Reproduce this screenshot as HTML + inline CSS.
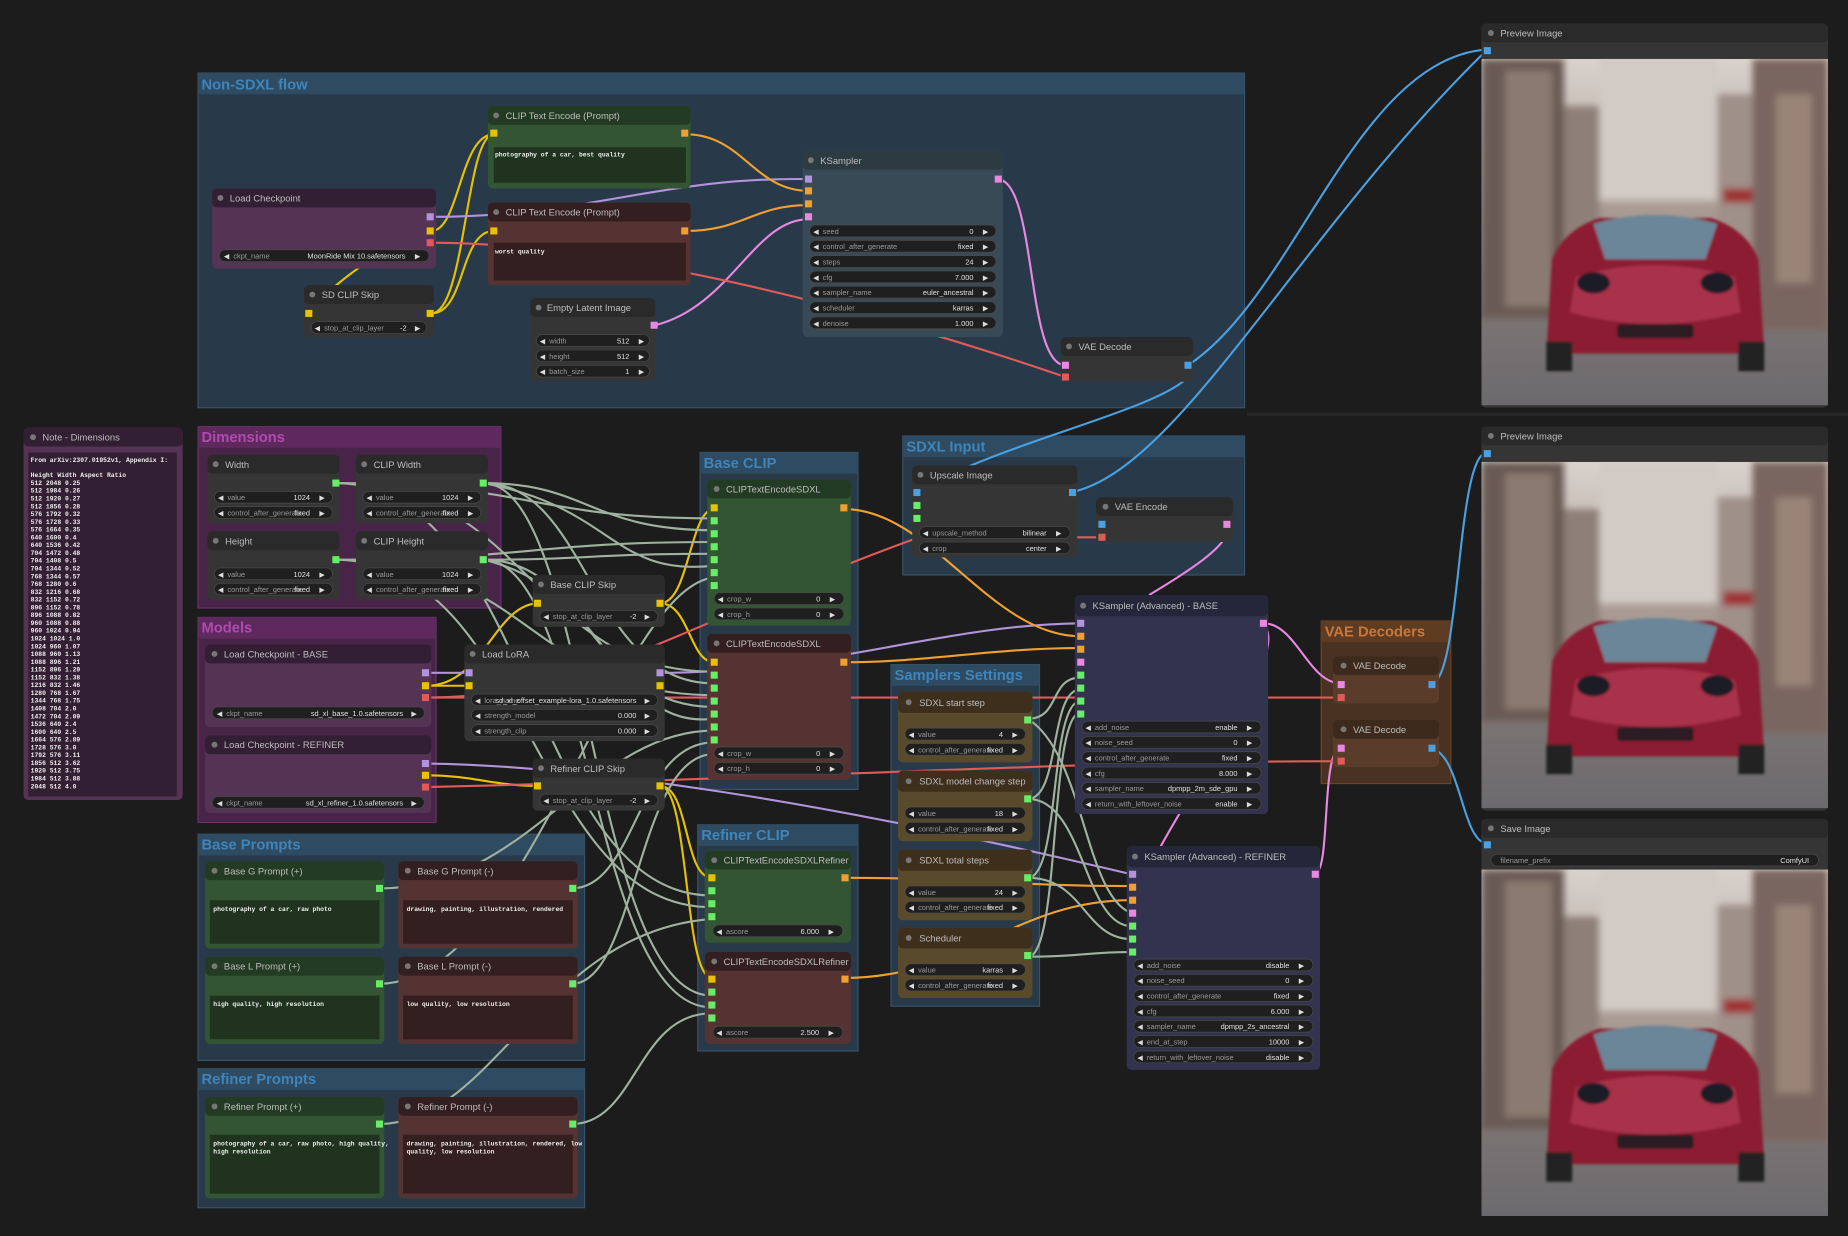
<!DOCTYPE html>
<html><head><meta charset="utf-8"><style>
html,body{margin:0;padding:0;background:#1c1c1c;overflow:hidden}
svg{display:block}
text{font-family:"Liberation Sans",sans-serif}
.t{font-size:8px;fill:#bdbdbd}
.g{font-size:12.5px;font-weight:bold}
.wl{font-size:6.3px;fill:#9a9a9a}
.wv{font-size:6.3px;fill:#e0e0e0;text-anchor:end}
.ar{font-size:6px;fill:#ddd}
.m{font-family:"Liberation Mono",monospace;font-size:5.4px;fill:#eee;font-weight:bold}
.wi{fill:#1f1f1f;stroke:#4a4a4a;stroke-width:.6}
.L path{fill:none;stroke-width:1.8}
</style></head><body>
<svg width="1848" height="1236" viewBox="0 0 1568 1049" preserveAspectRatio="none" xmlns="http://www.w3.org/2000/svg">
<defs>
<linearGradient id="sky" x1="0" y1="0" x2="0" y2="1">
<stop offset="0" stop-color="#d9d2cc"/><stop offset=".45" stop-color="#a89a92"/><stop offset=".7" stop-color="#7d7674"/><stop offset="1" stop-color="#6c6a6e"/></linearGradient>
<filter id="bl" x="-5%" y="-5%" width="110%" height="110%"><feGaussianBlur stdDeviation="3"/></filter>
<filter id="bl2"><feGaussianBlur stdDeviation="1.2"/></filter>
<clipPath id="pc"><rect width="294" height="294"/></clipPath>
<g id="photo">
<g clip-path="url(#pc)">
<rect width="294" height="294" fill="url(#sky)"/>
<g filter="url(#bl)">
<rect x="0" y="0" width="70" height="220" fill="#6a5a54"/>
<rect x="20" y="10" width="40" height="200" fill="#8a7a70"/>
<rect x="230" y="0" width="64" height="230" fill="#7a6660"/>
<rect x="250" y="30" width="30" height="160" fill="#9a8478"/>
<rect x="100" y="0" width="100" height="120" fill="#d2cac4"/>
<rect x="70" y="40" width="30" height="150" fill="#8e8078"/>
<rect x="200" y="30" width="30" height="150" fill="#a0908a"/>
<rect x="205" y="110" width="25" height="12" fill="#a03030"/>
</g>
<g filter="url(#bl2)">
<path d="M60 170 Q70 145 100 135 L195 135 Q225 145 235 170 L240 250 L55 250 Z" fill="#8c1d32"/>
<path d="M95 140 Q147 125 200 140 L190 170 L105 170 Z" fill="#6a8698"/>
<path d="M80 185 Q147 165 215 185 L220 215 Q147 235 75 215 Z" fill="#a83048"/>
<ellipse cx="95" cy="190" rx="14" ry="9" fill="#1e1e28"/>
<ellipse cx="200" cy="190" rx="14" ry="9" fill="#1e1e28"/>
<rect x="115" y="225" width="65" height="12" rx="3" fill="#2a1a20"/>
<rect x="55" y="240" width="22" height="25" fill="#222"/>
<rect x="218" y="240" width="22" height="25" fill="#222"/>
</g>
</g>
</g>
</defs>
<rect width="1568" height="1049" fill="#1c1c1c"/>
<rect x="1058" y="350" width="510" height="3" fill="#262626"/>

<!-- GROUPS -->
<g>
<rect x="168" y="62" width="888" height="284" fill="#283a4a" stroke="#35536c"/>
<rect x="168" y="62" width="888" height="18" fill="#2e4b62"/>
<text x="171" y="76" class="g" fill="#3f85bb">Non-SDXL flow</text>

<rect x="168" y="362" width="257" height="154" fill="#482448" stroke="#6a306a"/>
<rect x="168" y="362" width="257" height="18" fill="#5e2a5e"/>
<text x="171" y="375" class="g" fill="#b04ab0">Dimensions</text>

<rect x="168" y="524" width="202" height="174" fill="#482448" stroke="#6a306a"/>
<rect x="168" y="524" width="202" height="18" fill="#5e2a5e"/>
<text x="171" y="537" class="g" fill="#b04ab0">Models</text>

<rect x="168" y="708" width="328" height="192" fill="#283a4a" stroke="#35536c"/>
<rect x="168" y="708" width="328" height="18" fill="#2e4b62"/>
<text x="171" y="721" class="g" fill="#3f85bb">Base Prompts</text>

<rect x="168" y="907" width="328" height="118" fill="#283a4a" stroke="#35536c"/>
<rect x="168" y="907" width="328" height="18" fill="#2e4b62"/>
<text x="171" y="920" class="g" fill="#3f85bb">Refiner Prompts</text>

<rect x="594" y="384" width="134" height="286" fill="#283a4a" stroke="#35536c"/>
<rect x="594" y="384" width="134" height="18" fill="#2e4b62"/>
<text x="597" y="397" class="g" fill="#3f85bb">Base CLIP</text>

<rect x="592" y="700" width="136" height="192" fill="#283a4a" stroke="#35536c"/>
<rect x="592" y="700" width="136" height="18" fill="#2e4b62"/>
<text x="595" y="713" class="g" fill="#3f85bb">Refiner CLIP</text>

<rect x="766" y="370" width="290" height="118" fill="#283a4a" stroke="#35536c"/>
<rect x="766" y="370" width="290" height="18" fill="#2e4b62"/>
<text x="769" y="383" class="g" fill="#3f85bb">SDXL Input</text>

<rect x="756" y="564" width="126" height="290" fill="#283a4a" stroke="#35536c"/>
<rect x="756" y="564" width="126" height="18" fill="#2e4b62"/>
<text x="759" y="577" class="g" fill="#3f85bb">Samplers Settings</text>

<rect x="1121" y="527" width="110" height="138" fill="#4a3222" stroke="#6a4426"/>
<rect x="1121" y="527" width="110" height="18" fill="#5e3c22"/>
<text x="1124" y="540" class="g" fill="#c8783a">VAE Decoders</text>
</g>

<!-- LINKS -->
<g class="L">
<path stroke="#e6c200" d="M366 196 C390 196 390 114 419 114"/>
<path stroke="#e6c200" d="M366 266 C395 266 390 196 419 196"/>
<path stroke="#e6c200" d="M366 266 C395 266 395 114 419 114"/>
<path stroke="#e6c200" d="M366 196 C340 200 280 240 262 266"/>
<path stroke="#e6c200" d="M362 582 C410 582 420 512 457 512"/>
<path stroke="#e6c200" d="M362 658 C400 658 420 667 457 667"/>
<path stroke="#e6c200" d="M560 512 C585 512 585 432 606 432"/>
<path stroke="#e6c200" d="M560 512 C585 512 585 562 606 562"/>
<path stroke="#e6c200" d="M560 667 C585 667 580 745 604 745"/>
<path stroke="#e6c200" d="M560 667 C585 667 580 830 604 830"/>
<path stroke="#e6c200" d="M362 582 C380 582 380 582 398 582"/>
<path stroke="#b394dc" d="M366 184 C500 184 560 150 686 152"/>
<path stroke="#b394dc" d="M362 571 C380 571 380 571 398 571"/>
<path stroke="#b394dc" d="M560 571 C700 571 800 530 917 529"/>
<path stroke="#b394dc" d="M362 648 C500 650 700 680 960 742"/>
<path stroke="#f0a030" d="M582 114 C630 114 640 162 686 162"/>
<path stroke="#f0a030" d="M582 196 C630 196 640 174 686 174"/>
<path stroke="#f0a030" d="M716 432 C790 432 840 540 917 540"/>
<path stroke="#f0a030" d="M716 562 C790 562 840 550 917 550"/>
<path stroke="#f0a030" d="M716 745 C820 745 860 752 960 752"/>
<path stroke="#f0a030" d="M716 830 C820 830 860 764 960 764"/>
<path stroke="#e888e0" d="M556 276 C620 260 640 186 686 186"/>
<path stroke="#e888e0" d="M846 152 C880 152 870 310 904 310"/>
<path stroke="#e888e0" d="M1040 446 C1050 460 1000 490 975 505"/>
<path stroke="#e888e0" d="M1072 529 C1100 529 1110 580 1138 580"/>
<path stroke="#e888e0" d="M1072 529 C1100 560 980 700 960 775"/>
<path stroke="#e888e0" d="M1115 742 C1130 742 1120 635 1138 635"/>
<path stroke="#e05a5a" d="M366 206 C500 206 700 250 904 320"/>
<path stroke="#e05a5a" d="M362 592 C500 592 600 520 780 456 L936 456"/>
<path stroke="#e05a5a" d="M362 592 C700 592 900 592 1138 592"/>
<path stroke="#e05a5a" d="M362 668 C700 660 900 646 1138 646"/>
<path stroke="#4aa0e0" d="M1008 310 C1100 250 1150 50 1262 42"/>
<path stroke="#4aa0e0" d="M1008 320 C980 350 830 380 778 420"/>
<path stroke="#4aa0e0" d="M908 418 C1000 400 1100 200 1262 42"/>
<path stroke="#4aa0e0" d="M1214 580 C1240 580 1235 384 1262 384"/>
<path stroke="#4aa0e0" d="M1214 635 C1240 640 1240 715 1262 716"/>
<g stroke="#9fb29f" stroke-width="1.4">
<path d="M284 410 C450 410 450 440 606 440"/>
<path d="M284 410 C450 410 450 570 606 570"/>
<path d="M284 410 C450 410 450 760 604 760"/>
<path d="M410 410 C500 410 500 450 606 450"/>
<path d="M410 410 C500 410 500 580 606 580"/>
<path d="M410 410 C500 410 500 845 604 845"/>
<path d="M284 475 C450 475 450 460 606 460"/>
<path d="M284 475 C450 475 450 590 606 590"/>
<path d="M284 475 C450 475 450 770 604 770"/>
<path d="M410 475 C500 475 500 470 606 470"/>
<path d="M410 475 C500 475 500 600 606 600"/>
<path d="M410 475 C500 475 500 855 604 855"/>
<path d="M410 410 C520 430 520 490 606 480"/>
<path d="M410 475 C520 500 520 620 606 610"/>
<path d="M321 754 C450 754 500 620 606 620"/>
<path d="M485 754 C540 754 540 630 606 630"/>
<path d="M321 835 C450 835 520 500 606 490"/>
<path d="M485 835 C540 835 540 640 606 640"/>
<path d="M321 954 C420 954 460 790 604 780"/>
<path d="M485 954 C540 954 540 860 604 860"/>
<path d="M872 610 C900 610 890 575 917 575"/>
<path d="M872 678 C900 678 890 585 917 585"/>
<path d="M872 745 C900 745 890 595 917 595"/>
<path d="M872 812 C900 812 890 605 917 605"/>
<path d="M872 678 C920 678 920 786 960 786"/>
<path d="M872 745 C920 745 920 797 960 797"/>
<path d="M872 812 C920 812 920 808 960 808"/>
<path d="M872 610 C920 640 920 760 960 775"/>
</g>
</g>

<!-- NODES -->
<g>
<rect x="414" y="90" width="172" height="70" rx="4" fill="#335533"/>
<rect x="414" y="90" width="172" height="16" rx="4" fill="#233a23"/>
<circle cx="421" cy="98" r="2.5" fill="#777"/><text x="429" y="101" class="t">CLIP Text Encode (Prompt)</text>
<rect x="416" y="110" width="6" height="6" fill="#e6c200"/><rect x="578" y="110" width="6" height="6" fill="#f0a030"/>
<rect x="419" y="125" width="163" height="30" fill="#1f331f"/>
<text x="420" y="133" class="m">photography of a car, best quality</text>
</g>
<g>
<rect x="414" y="172" width="172" height="70" rx="4" fill="#553333"/>
<rect x="414" y="172" width="172" height="16" rx="4" fill="#331f1f"/>
<circle cx="421" cy="180" r="2.5" fill="#777"/><text x="429" y="183" class="t">CLIP Text Encode (Prompt)</text>
<rect x="416" y="193" width="6" height="6" fill="#e6c200"/><rect x="578" y="193" width="6" height="6" fill="#f0a030"/>
<rect x="419" y="206" width="163" height="32" fill="#331f1f"/>
<text x="420" y="215" class="m">worst quality</text>
</g>
<g>
<rect x="180" y="160" width="190" height="68" rx="4" fill="#553355"/>
<rect x="180" y="160" width="190" height="16" rx="4" fill="#331f33"/>
<circle cx="187" cy="168" r="2.5" fill="#777"/><text x="195" y="171" class="t">Load Checkpoint</text>
<rect x="362" y="181" width="6" height="6" fill="#b394dc"/><rect x="362" y="193" width="6" height="6" fill="#e6c200"/><rect x="362" y="203" width="6" height="6" fill="#e05a5a"/>
<rect x="186" y="212" width="178" height="10" rx="5" class="wi"/><text x="190" y="219.5" class="ar">◀</text><text x="198" y="219.5" class="wl">ckpt_name</text><text x="344" y="219.5" class="wv">MoonRide Mix 10.safetensors</text><text x="352" y="219.5" class="ar">▶</text>
</g>
<g>
<rect x="258" y="242" width="110" height="44" rx="4" fill="#353535"/>
<rect x="258" y="242" width="110" height="16" rx="4" fill="#2a2a2a"/>
<circle cx="265" cy="250" r="2.5" fill="#777"/><text x="273" y="253" class="t">SD CLIP Skip</text>
<rect x="259" y="263" width="6" height="6" fill="#e6c200"/><rect x="362" y="263" width="6" height="6" fill="#e6c200"/>
<rect x="264" y="273" width="98" height="10" rx="5" class="wi"/><text x="267" y="280.5" class="ar">◀</text><text x="275" y="280.5" class="wl">stop_at_clip_layer</text><text x="345" y="280.5" class="wv">-2</text><text x="352" y="280.5" class="ar">▶</text>
</g>
<g>
<rect x="450" y="253" width="106" height="70" rx="4" fill="#353535"/>
<rect x="450" y="253" width="106" height="16" rx="4" fill="#2a2a2a"/>
<circle cx="457" cy="261" r="2.5" fill="#777"/><text x="464" y="264" class="t">Empty Latent Image</text>
<rect x="552" y="273" width="6" height="6" fill="#e888e0"/>
<rect x="455" y="284" width="96" height="10" rx="5" class="wi"/><text x="458" y="291.5" class="ar">◀</text><text x="466" y="291.5" class="wl">width</text><text x="534" y="291.5" class="wv">512</text><text x="542" y="291.5" class="ar">▶</text>
<rect x="455" y="297" width="96" height="10" rx="5" class="wi"/><text x="458" y="304.5" class="ar">◀</text><text x="466" y="304.5" class="wl">height</text><text x="534" y="304.5" class="wv">512</text><text x="542" y="304.5" class="ar">▶</text>
<rect x="455" y="310" width="96" height="10" rx="5" class="wi"/><text x="458" y="317.5" class="ar">◀</text><text x="466" y="317.5" class="wl">batch_size</text><text x="534" y="317.5" class="wv">1</text><text x="542" y="317.5" class="ar">▶</text>
</g>
<g>
<rect x="681" y="128" width="170" height="158" rx="4" fill="#374a55"/>
<rect x="681" y="128" width="170" height="16" rx="4" fill="#2c3a42"/>
<circle cx="688" cy="136" r="2.5" fill="#777"/><text x="696" y="139" class="t">KSampler</text>
<rect x="683" y="149" width="6" height="6" fill="#b394dc"/><rect x="683" y="159" width="6" height="6" fill="#f0a030"/><rect x="683" y="170" width="6" height="6" fill="#f0a030"/><rect x="683" y="181" width="6" height="6" fill="#e888e0"/>
<rect x="844" y="149" width="6" height="6" fill="#e888e0"/>
<rect x="687" y="191" width="158" height="10" rx="5" class="wi"/><text x="690" y="198.5" class="ar">◀</text><text x="698" y="198.5" class="wl">seed</text><text x="826" y="198.5" class="wv">0</text><text x="834" y="198.5" class="ar">▶</text>
<rect x="687" y="204" width="158" height="10" rx="5" class="wi"/><text x="690" y="211.5" class="ar">◀</text><text x="698" y="211.5" class="wl">control_after_generate</text><text x="826" y="211.5" class="wv">fixed</text><text x="834" y="211.5" class="ar">▶</text>
<rect x="687" y="217" width="158" height="10" rx="5" class="wi"/><text x="690" y="224.5" class="ar">◀</text><text x="698" y="224.5" class="wl">steps</text><text x="826" y="224.5" class="wv">24</text><text x="834" y="224.5" class="ar">▶</text>
<rect x="687" y="230" width="158" height="10" rx="5" class="wi"/><text x="690" y="237.5" class="ar">◀</text><text x="698" y="237.5" class="wl">cfg</text><text x="826" y="237.5" class="wv">7.000</text><text x="834" y="237.5" class="ar">▶</text>
<rect x="687" y="243" width="158" height="10" rx="5" class="wi"/><text x="690" y="250.5" class="ar">◀</text><text x="698" y="250.5" class="wl">sampler_name</text><text x="826" y="250.5" class="wv">euler_ancestral</text><text x="834" y="250.5" class="ar">▶</text>
<rect x="687" y="256" width="158" height="10" rx="5" class="wi"/><text x="690" y="263.5" class="ar">◀</text><text x="698" y="263.5" class="wl">scheduler</text><text x="826" y="263.5" class="wv">karras</text><text x="834" y="263.5" class="ar">▶</text>
<rect x="687" y="269" width="158" height="10" rx="5" class="wi"/><text x="690" y="276.5" class="ar">◀</text><text x="698" y="276.5" class="wl">denoise</text><text x="826" y="276.5" class="wv">1.000</text><text x="834" y="276.5" class="ar">▶</text>
</g>
<g>
<rect x="900" y="286" width="112" height="38" rx="4" fill="#353535"/>
<rect x="900" y="286" width="112" height="16" rx="4" fill="#2a2a2a"/>
<circle cx="907" cy="294" r="2.5" fill="#777"/><text x="915" y="297" class="t">VAE Decode</text>
<rect x="901" y="307" width="6" height="6" fill="#e888e0"/><rect x="901" y="317" width="6" height="6" fill="#e05a5a"/><rect x="1005" y="307" width="6" height="6" fill="#4aa0e0"/>
</g>
<g>
<rect x="1257" y="20" width="294" height="326" rx="4" fill="#353535"/>
<rect x="1257" y="20" width="294" height="16" rx="4" fill="#2a2a2a"/>
<circle cx="1265" cy="28" r="2.5" fill="#777"/><text x="1273" y="31" class="t">Preview Image</text>
<rect x="1259" y="40" width="6" height="6" fill="#4aa0e0"/>
<use href="#photo" x="1257" y="50"/>
</g>

<g>
<rect x="20" y="363" width="135" height="316" rx="4" fill="#553355"/>
<rect x="20" y="363" width="135" height="16" rx="4" fill="#331f33"/>
<circle cx="28" cy="371" r="2.5" fill="#777"/><text x="36" y="374" class="t">Note - Dimensions</text>
<rect x="24" y="384" width="126" height="292" fill="#331f33"/>
<text class="m" x="26">
<tspan x="26" y="392">From arXiv:2307.01952v1, Appendix I:</tspan>
<tspan x="26" y="405">Height Width Aspect Ratio</tspan>
<tspan x="26" dy="6.6">512 2048 0.25</tspan><tspan x="26" dy="6.6">512 1984 0.26</tspan><tspan x="26" dy="6.6">512 1920 0.27</tspan><tspan x="26" dy="6.6">512 1856 0.28</tspan><tspan x="26" dy="6.6">576 1792 0.32</tspan><tspan x="26" dy="6.6">576 1728 0.33</tspan><tspan x="26" dy="6.6">576 1664 0.35</tspan><tspan x="26" dy="6.6">640 1600 0.4</tspan><tspan x="26" dy="6.6">640 1536 0.42</tspan><tspan x="26" dy="6.6">704 1472 0.48</tspan><tspan x="26" dy="6.6">704 1408 0.5</tspan><tspan x="26" dy="6.6">704 1344 0.52</tspan><tspan x="26" dy="6.6">768 1344 0.57</tspan><tspan x="26" dy="6.6">768 1280 0.6</tspan><tspan x="26" dy="6.6">832 1216 0.68</tspan><tspan x="26" dy="6.6">832 1152 0.72</tspan><tspan x="26" dy="6.6">896 1152 0.78</tspan><tspan x="26" dy="6.6">896 1088 0.82</tspan><tspan x="26" dy="6.6">960 1088 0.88</tspan><tspan x="26" dy="6.6">960 1024 0.94</tspan><tspan x="26" dy="6.6">1024 1024 1.0</tspan><tspan x="26" dy="6.6">1024 960 1.07</tspan><tspan x="26" dy="6.6">1088 960 1.13</tspan><tspan x="26" dy="6.6">1088 896 1.21</tspan><tspan x="26" dy="6.6">1152 896 1.29</tspan><tspan x="26" dy="6.6">1152 832 1.38</tspan><tspan x="26" dy="6.6">1216 832 1.46</tspan><tspan x="26" dy="6.6">1280 768 1.67</tspan><tspan x="26" dy="6.6">1344 768 1.75</tspan><tspan x="26" dy="6.6">1408 704 2.0</tspan><tspan x="26" dy="6.6">1472 704 2.09</tspan><tspan x="26" dy="6.6">1536 640 2.4</tspan><tspan x="26" dy="6.6">1600 640 2.5</tspan><tspan x="26" dy="6.6">1664 576 2.89</tspan><tspan x="26" dy="6.6">1728 576 3.0</tspan><tspan x="26" dy="6.6">1792 576 3.11</tspan><tspan x="26" dy="6.6">1856 512 3.62</tspan><tspan x="26" dy="6.6">1920 512 3.75</tspan><tspan x="26" dy="6.6">1984 512 3.88</tspan><tspan x="26" dy="6.6">2048 512 4.0</tspan>
</text>
</g>

<g>
<rect x="176" y="386" width="112" height="58" rx="4" fill="#353535"/><rect x="176" y="386" width="112" height="16" rx="4" fill="#2a2a2a"/>
<circle cx="183" cy="394" r="2.5" fill="#777"/><text x="191" y="397" class="t">Width</text>
<rect x="282" y="407" width="6" height="6" fill="#6e6"/>
<rect x="182" y="417" width="100" height="10" rx="5" class="wi"/><text x="185" y="424.5" class="ar">◀</text><text x="193" y="424.5" class="wl">value</text><text x="263" y="424.5" class="wv">1024</text><text x="271" y="424.5" class="ar">▶</text>
<rect x="182" y="430" width="100" height="10" rx="5" class="wi"/><text x="185" y="437.5" class="ar">◀</text><text x="193" y="437.5" class="wl">control_after_generate</text><text x="263" y="437.5" class="wv">fixed</text><text x="271" y="437.5" class="ar">▶</text>

<rect x="302" y="386" width="112" height="58" rx="4" fill="#353535"/><rect x="302" y="386" width="112" height="16" rx="4" fill="#2a2a2a"/>
<circle cx="309" cy="394" r="2.5" fill="#777"/><text x="317" y="397" class="t">CLIP Width</text>
<rect x="407" y="407" width="6" height="6" fill="#6e6"/>
<rect x="308" y="417" width="100" height="10" rx="5" class="wi"/><text x="311" y="424.5" class="ar">◀</text><text x="319" y="424.5" class="wl">value</text><text x="389" y="424.5" class="wv">1024</text><text x="397" y="424.5" class="ar">▶</text>
<rect x="308" y="430" width="100" height="10" rx="5" class="wi"/><text x="311" y="437.5" class="ar">◀</text><text x="319" y="437.5" class="wl">control_after_generate</text><text x="389" y="437.5" class="wv">fixed</text><text x="397" y="437.5" class="ar">▶</text>

<rect x="176" y="451" width="112" height="58" rx="4" fill="#353535"/><rect x="176" y="451" width="112" height="16" rx="4" fill="#2a2a2a"/>
<circle cx="183" cy="459" r="2.5" fill="#777"/><text x="191" y="462" class="t">Height</text>
<rect x="282" y="472" width="6" height="6" fill="#6e6"/>
<rect x="182" y="482" width="100" height="10" rx="5" class="wi"/><text x="185" y="489.5" class="ar">◀</text><text x="193" y="489.5" class="wl">value</text><text x="263" y="489.5" class="wv">1024</text><text x="271" y="489.5" class="ar">▶</text>
<rect x="182" y="495" width="100" height="10" rx="5" class="wi"/><text x="185" y="502.5" class="ar">◀</text><text x="193" y="502.5" class="wl">control_after_generate</text><text x="263" y="502.5" class="wv">fixed</text><text x="271" y="502.5" class="ar">▶</text>

<rect x="302" y="451" width="112" height="58" rx="4" fill="#353535"/><rect x="302" y="451" width="112" height="16" rx="4" fill="#2a2a2a"/>
<circle cx="309" cy="459" r="2.5" fill="#777"/><text x="317" y="462" class="t">CLIP Height</text>
<rect x="407" y="472" width="6" height="6" fill="#6e6"/>
<rect x="308" y="482" width="100" height="10" rx="5" class="wi"/><text x="311" y="489.5" class="ar">◀</text><text x="319" y="489.5" class="wl">value</text><text x="389" y="489.5" class="wv">1024</text><text x="397" y="489.5" class="ar">▶</text>
<rect x="308" y="495" width="100" height="10" rx="5" class="wi"/><text x="311" y="502.5" class="ar">◀</text><text x="319" y="502.5" class="wl">control_after_generate</text><text x="389" y="502.5" class="wv">fixed</text><text x="397" y="502.5" class="ar">▶</text>
</g>

<g>
<rect x="174" y="547" width="192" height="70" rx="4" fill="#553355"/><rect x="174" y="547" width="192" height="16" rx="4" fill="#331f33"/>
<circle cx="182" cy="555" r="2.5" fill="#777"/><text x="190" y="558" class="t">Load Checkpoint - BASE</text>
<rect x="358" y="568" width="6" height="6" fill="#b394dc"/><rect x="358" y="579" width="6" height="6" fill="#e6c200"/><rect x="358" y="589" width="6" height="6" fill="#e05a5a"/>
<rect x="180" y="600" width="180" height="10" rx="5" class="wi"/><text x="184" y="607.5" class="ar">◀</text><text x="192" y="607.5" class="wl">ckpt_name</text><text x="342" y="607.5" class="wv">sd_xl_base_1.0.safetensors</text><text x="349" y="607.5" class="ar">▶</text>

<rect x="174" y="624" width="192" height="66" rx="4" fill="#553355"/><rect x="174" y="624" width="192" height="16" rx="4" fill="#331f33"/>
<circle cx="182" cy="632" r="2.5" fill="#777"/><text x="190" y="635" class="t">Load Checkpoint - REFINER</text>
<rect x="358" y="645" width="6" height="6" fill="#b394dc"/><rect x="358" y="655" width="6" height="6" fill="#e6c200"/><rect x="358" y="665" width="6" height="6" fill="#e05a5a"/>
<rect x="180" y="676" width="180" height="10" rx="5" class="wi"/><text x="184" y="683.5" class="ar">◀</text><text x="192" y="683.5" class="wl">ckpt_name</text><text x="342" y="683.5" class="wv">sd_xl_refiner_1.0.safetensors</text><text x="349" y="683.5" class="ar">▶</text>
</g>

<g>
<rect x="174" y="731" width="152" height="74" rx="4" fill="#335533"/><rect x="174" y="731" width="152" height="16" rx="4" fill="#233a23"/>
<circle cx="182" cy="739" r="2.5" fill="#777"/><text x="190" y="742" class="t">Base G Prompt (+)</text>
<rect x="319" y="751" width="6" height="6" fill="#6e6"/>
<rect x="178" y="764" width="144" height="37" fill="#1f331f"/><text x="181" y="773" class="m">photography of a car, raw photo</text>

<rect x="338" y="731" width="152" height="74" rx="4" fill="#553333"/><rect x="338" y="731" width="152" height="16" rx="4" fill="#331f1f"/>
<circle cx="346" cy="739" r="2.5" fill="#777"/><text x="354" y="742" class="t">Base G Prompt (-)</text>
<rect x="483" y="751" width="6" height="6" fill="#6e6"/>
<rect x="342" y="764" width="144" height="37" fill="#331f1f"/><text x="345" y="773" class="m">drawing, painting, illustration, rendered</text>

<rect x="174" y="812" width="152" height="74" rx="4" fill="#335533"/><rect x="174" y="812" width="152" height="16" rx="4" fill="#233a23"/>
<circle cx="182" cy="820" r="2.5" fill="#777"/><text x="190" y="823" class="t">Base L Prompt (+)</text>
<rect x="319" y="832" width="6" height="6" fill="#6e6"/>
<rect x="178" y="845" width="144" height="37" fill="#1f331f"/><text x="181" y="854" class="m">high quality, high resolution</text>

<rect x="338" y="812" width="152" height="74" rx="4" fill="#553333"/><rect x="338" y="812" width="152" height="16" rx="4" fill="#331f1f"/>
<circle cx="346" cy="820" r="2.5" fill="#777"/><text x="354" y="823" class="t">Base L Prompt (-)</text>
<rect x="483" y="832" width="6" height="6" fill="#6e6"/>
<rect x="342" y="845" width="144" height="37" fill="#331f1f"/><text x="345" y="854" class="m">low quality, low resolution</text>

<rect x="174" y="931" width="152" height="86" rx="4" fill="#335533"/><rect x="174" y="931" width="152" height="16" rx="4" fill="#233a23"/>
<circle cx="182" cy="939" r="2.5" fill="#777"/><text x="190" y="942" class="t">Refiner Prompt (+)</text>
<rect x="319" y="951" width="6" height="6" fill="#6e6"/>
<rect x="178" y="963" width="144" height="50" fill="#1f331f"/><text x="181" y="972" class="m"><tspan x="181" y="972">photography of a car, raw photo, high quality,</tspan><tspan x="181" dy="7">high resolution</tspan></text>

<rect x="338" y="931" width="152" height="86" rx="4" fill="#553333"/><rect x="338" y="931" width="152" height="16" rx="4" fill="#331f1f"/>
<circle cx="346" cy="939" r="2.5" fill="#777"/><text x="354" y="942" class="t">Refiner Prompt (-)</text>
<rect x="483" y="951" width="6" height="6" fill="#6e6"/>
<rect x="342" y="963" width="144" height="50" fill="#331f1f"/><text class="m"><tspan x="345" y="972">drawing, painting, illustration, rendered, low</tspan><tspan x="345" dy="7">quality, low resolution</tspan></text>
</g>

<g>
<rect x="452" y="488" width="112" height="44" rx="4" fill="#353535"/><rect x="452" y="488" width="112" height="16" rx="4" fill="#2a2a2a"/>
<circle cx="459" cy="496" r="2.5" fill="#777"/><text x="467" y="499" class="t">Base CLIP Skip</text>
<rect x="453" y="509" width="6" height="6" fill="#e6c200"/><rect x="557" y="509" width="6" height="6" fill="#e6c200"/>
<rect x="458" y="518" width="100" height="10" rx="5" class="wi"/><text x="461" y="525.5" class="ar">◀</text><text x="469" y="525.5" class="wl">stop_at_clip_layer</text><text x="540" y="525.5" class="wv">-2</text><text x="547" y="525.5" class="ar">▶</text>

<rect x="394" y="547" width="170" height="82" rx="4" fill="#353535"/><rect x="394" y="547" width="170" height="16" rx="4" fill="#2a2a2a"/>
<circle cx="401" cy="555" r="2.5" fill="#777"/><text x="409" y="558" class="t">Load LoRA</text>
<rect x="395" y="568" width="6" height="6" fill="#b394dc"/><rect x="395" y="579" width="6" height="6" fill="#e6c200"/>
<rect x="557" y="568" width="6" height="6" fill="#b394dc"/><rect x="557" y="579" width="6" height="6" fill="#e6c200"/>
<rect x="400" y="589" width="158" height="10" rx="5" class="wi"/><text x="403" y="596.5" class="ar">◀</text><text x="411" y="596.5" class="wl">lora_name</text><text x="540" y="596.5" class="wv">sd_xl_offset_example-lora_1.0.safetensors</text><text x="547" y="596.5" class="ar">▶</text>
<rect x="400" y="602" width="158" height="10" rx="5" class="wi"/><text x="403" y="609.5" class="ar">◀</text><text x="411" y="609.5" class="wl">strength_model</text><text x="540" y="609.5" class="wv">0.000</text><text x="547" y="609.5" class="ar">▶</text>
<rect x="400" y="615" width="158" height="10" rx="5" class="wi"/><text x="403" y="622.5" class="ar">◀</text><text x="411" y="622.5" class="wl">strength_clip</text><text x="540" y="622.5" class="wv">0.000</text><text x="547" y="622.5" class="ar">▶</text>

<rect x="452" y="644" width="112" height="44" rx="4" fill="#353535"/><rect x="452" y="644" width="112" height="16" rx="4" fill="#2a2a2a"/>
<circle cx="459" cy="652" r="2.5" fill="#777"/><text x="467" y="655" class="t">Refiner CLIP Skip</text>
<rect x="453" y="664" width="6" height="6" fill="#e6c200"/><rect x="557" y="664" width="6" height="6" fill="#e6c200"/>
<rect x="458" y="674" width="100" height="10" rx="5" class="wi"/><text x="461" y="681.5" class="ar">◀</text><text x="469" y="681.5" class="wl">stop_at_clip_layer</text><text x="540" y="681.5" class="wv">-2</text><text x="547" y="681.5" class="ar">▶</text>
</g>

<g>
<rect x="600" y="407" width="122" height="124" rx="4" fill="#335533"/><rect x="600" y="407" width="122" height="16" rx="4" fill="#233a23"/>
<circle cx="608" cy="415" r="2.5" fill="#777"/><text x="616" y="418" class="t">CLIPTextEncodeSDXL</text>
<rect x="603" y="428" width="6" height="6" fill="#e6c200"/><rect x="713" y="428" width="6" height="6" fill="#f0a030"/>
<rect x="603" y="439" width="6" height="6" fill="#6e6"/><rect x="603" y="450" width="6" height="6" fill="#6e6"/><rect x="603" y="461" width="6" height="6" fill="#6e6"/><rect x="603" y="472" width="6" height="6" fill="#6e6"/><rect x="603" y="483" width="6" height="6" fill="#6e6"/><rect x="603" y="494" width="6" height="6" fill="#6e6"/>
<rect x="606" y="503" width="110" height="10" rx="5" class="wi"/><text x="609" y="510.5" class="ar">◀</text><text x="617" y="510.5" class="wl">crop_w</text><text x="696" y="510.5" class="wv">0</text><text x="704" y="510.5" class="ar">▶</text>
<rect x="606" y="516" width="110" height="10" rx="5" class="wi"/><text x="609" y="523.5" class="ar">◀</text><text x="617" y="523.5" class="wl">crop_h</text><text x="696" y="523.5" class="wv">0</text><text x="704" y="523.5" class="ar">▶</text>

<rect x="600" y="538" width="122" height="124" rx="4" fill="#553333"/><rect x="600" y="538" width="122" height="16" rx="4" fill="#331f1f"/>
<circle cx="608" cy="546" r="2.5" fill="#777"/><text x="616" y="549" class="t">CLIPTextEncodeSDXL</text>
<rect x="603" y="559" width="6" height="6" fill="#e6c200"/><rect x="713" y="559" width="6" height="6" fill="#f0a030"/>
<rect x="603" y="570" width="6" height="6" fill="#6e6"/><rect x="603" y="581" width="6" height="6" fill="#6e6"/><rect x="603" y="592" width="6" height="6" fill="#6e6"/><rect x="603" y="603" width="6" height="6" fill="#6e6"/><rect x="603" y="614" width="6" height="6" fill="#6e6"/><rect x="603" y="625" width="6" height="6" fill="#6e6"/>
<rect x="606" y="634" width="110" height="10" rx="5" class="wi"/><text x="609" y="641.5" class="ar">◀</text><text x="617" y="641.5" class="wl">crop_w</text><text x="696" y="641.5" class="wv">0</text><text x="704" y="641.5" class="ar">▶</text>
<rect x="606" y="647" width="110" height="10" rx="5" class="wi"/><text x="609" y="654.5" class="ar">◀</text><text x="617" y="654.5" class="wl">crop_h</text><text x="696" y="654.5" class="wv">0</text><text x="704" y="654.5" class="ar">▶</text>

<rect x="598" y="722" width="124" height="78" rx="4" fill="#335533"/><rect x="598" y="722" width="124" height="16" rx="4" fill="#233a23"/>
<circle cx="606" cy="730" r="2.5" fill="#777"/><text x="614" y="733" class="t">CLIPTextEncodeSDXLRefiner</text>
<rect x="601" y="742" width="6" height="6" fill="#e6c200"/><rect x="714" y="742" width="6" height="6" fill="#f0a030"/>
<rect x="601" y="753" width="6" height="6" fill="#6e6"/><rect x="601" y="764" width="6" height="6" fill="#6e6"/><rect x="601" y="775" width="6" height="6" fill="#6e6"/>
<rect x="605" y="785" width="110" height="10" rx="5" class="wi"/><text x="608" y="792.5" class="ar">◀</text><text x="616" y="792.5" class="wl">ascore</text><text x="695" y="792.5" class="wv">6.000</text><text x="703" y="792.5" class="ar">▶</text>

<rect x="598" y="808" width="124" height="78" rx="4" fill="#553333"/><rect x="598" y="808" width="124" height="16" rx="4" fill="#331f1f"/>
<circle cx="606" cy="816" r="2.5" fill="#777"/><text x="614" y="819" class="t">CLIPTextEncodeSDXLRefiner</text>
<rect x="601" y="828" width="6" height="6" fill="#e6c200"/><rect x="714" y="828" width="6" height="6" fill="#f0a030"/>
<rect x="601" y="839" width="6" height="6" fill="#6e6"/><rect x="601" y="850" width="6" height="6" fill="#6e6"/><rect x="601" y="861" width="6" height="6" fill="#6e6"/>
<rect x="605" y="871" width="110" height="10" rx="5" class="wi"/><text x="608" y="878.5" class="ar">◀</text><text x="616" y="878.5" class="wl">ascore</text><text x="695" y="878.5" class="wv">2.500</text><text x="703" y="878.5" class="ar">▶</text>
</g>

<g>
<rect x="774" y="395" width="140" height="78" rx="4" fill="#353535"/><rect x="774" y="395" width="140" height="16" rx="4" fill="#2a2a2a"/>
<circle cx="781" cy="403" r="2.5" fill="#777"/><text x="789" y="406" class="t">Upscale Image</text>
<rect x="775" y="415" width="6" height="6" fill="#4aa0e0"/><rect x="907" y="415" width="6" height="6" fill="#4aa0e0"/>
<rect x="775" y="426" width="6" height="6" fill="#6e6"/><rect x="775" y="437" width="6" height="6" fill="#6e6"/>
<rect x="780" y="447" width="128" height="10" rx="5" class="wi"/><text x="783" y="454.5" class="ar">◀</text><text x="791" y="454.5" class="wl">upscale_method</text><text x="888" y="454.5" class="wv">bilinear</text><text x="896" y="454.5" class="ar">▶</text>
<rect x="780" y="460" width="128" height="10" rx="5" class="wi"/><text x="783" y="467.5" class="ar">◀</text><text x="791" y="467.5" class="wl">crop</text><text x="888" y="467.5" class="wv">center</text><text x="896" y="467.5" class="ar">▶</text>

<rect x="930" y="422" width="116" height="38" rx="4" fill="#353535"/><rect x="930" y="422" width="116" height="16" rx="4" fill="#2a2a2a"/>
<circle cx="938" cy="430" r="2.5" fill="#777"/><text x="946" y="433" class="t">VAE Encode</text>
<rect x="932" y="442" width="6" height="6" fill="#4aa0e0"/><rect x="932" y="453" width="6" height="6" fill="#e05a5a"/><rect x="1038" y="442" width="6" height="6" fill="#e888e0"/>
</g>

<g>
<rect x="762" y="587" width="114" height="60" rx="4" fill="#5a4a2c"/><rect x="762" y="587" width="114" height="18" rx="4" fill="#3e2e1c"/>
<circle cx="771" cy="596" r="2.5" fill="#777"/><text x="780" y="599" class="t">SDXL start step</text>
<rect x="869" y="608" width="6" height="6" fill="#6e6"/>
<rect x="768" y="618" width="102" height="10" rx="5" class="wi"/><text x="771" y="625.5" class="ar">◀</text><text x="779" y="625.5" class="wl">value</text><text x="851" y="625.5" class="wv">4</text><text x="859" y="625.5" class="ar">▶</text>
<rect x="768" y="631" width="102" height="10" rx="5" class="wi"/><text x="771" y="638.5" class="ar">◀</text><text x="779" y="638.5" class="wl">control_after_generate</text><text x="851" y="638.5" class="wv">fixed</text><text x="859" y="638.5" class="ar">▶</text>

<rect x="762" y="654" width="114" height="60" rx="4" fill="#5a4a2c"/><rect x="762" y="654" width="114" height="18" rx="4" fill="#3e2e1c"/>
<circle cx="771" cy="663" r="2.5" fill="#777"/><text x="780" y="666" class="t">SDXL model change step</text>
<rect x="869" y="675" width="6" height="6" fill="#6e6"/>
<rect x="768" y="685" width="102" height="10" rx="5" class="wi"/><text x="771" y="692.5" class="ar">◀</text><text x="779" y="692.5" class="wl">value</text><text x="851" y="692.5" class="wv">18</text><text x="859" y="692.5" class="ar">▶</text>
<rect x="768" y="698" width="102" height="10" rx="5" class="wi"/><text x="771" y="705.5" class="ar">◀</text><text x="779" y="705.5" class="wl">control_after_generate</text><text x="851" y="705.5" class="wv">fixed</text><text x="859" y="705.5" class="ar">▶</text>

<rect x="762" y="721" width="114" height="60" rx="4" fill="#5a4a2c"/><rect x="762" y="721" width="114" height="18" rx="4" fill="#3e2e1c"/>
<circle cx="771" cy="730" r="2.5" fill="#777"/><text x="780" y="733" class="t">SDXL total steps</text>
<rect x="869" y="742" width="6" height="6" fill="#6e6"/>
<rect x="768" y="752" width="102" height="10" rx="5" class="wi"/><text x="771" y="759.5" class="ar">◀</text><text x="779" y="759.5" class="wl">value</text><text x="851" y="759.5" class="wv">24</text><text x="859" y="759.5" class="ar">▶</text>
<rect x="768" y="765" width="102" height="10" rx="5" class="wi"/><text x="771" y="772.5" class="ar">◀</text><text x="779" y="772.5" class="wl">control_after_generate</text><text x="851" y="772.5" class="wv">fixed</text><text x="859" y="772.5" class="ar">▶</text>

<rect x="762" y="787" width="114" height="60" rx="4" fill="#5a4a2c"/><rect x="762" y="787" width="114" height="18" rx="4" fill="#3e2e1c"/>
<circle cx="771" cy="796" r="2.5" fill="#777"/><text x="780" y="799" class="t">Scheduler</text>
<rect x="869" y="808" width="6" height="6" fill="#6e6"/>
<rect x="768" y="818" width="102" height="10" rx="5" class="wi"/><text x="771" y="825.5" class="ar">◀</text><text x="779" y="825.5" class="wl">value</text><text x="851" y="825.5" class="wv">karras</text><text x="859" y="825.5" class="ar">▶</text>
<rect x="768" y="831" width="102" height="10" rx="5" class="wi"/><text x="771" y="838.5" class="ar">◀</text><text x="779" y="838.5" class="wl">control_after_generate</text><text x="851" y="838.5" class="wv">fixed</text><text x="859" y="838.5" class="ar">▶</text>
</g>

<g>
<rect x="912" y="505" width="164" height="186" rx="4" fill="#33334f"/><rect x="912" y="505" width="164" height="18" rx="4" fill="#26263a"/>
<circle cx="919" cy="514" r="2.5" fill="#777"/><text x="927" y="517" class="t">KSampler (Advanced) - BASE</text>
<rect x="914" y="526" width="6" height="6" fill="#b394dc"/><rect x="914" y="537" width="6" height="6" fill="#f0a030"/><rect x="914" y="548" width="6" height="6" fill="#f0a030"/><rect x="914" y="559" width="6" height="6" fill="#e888e0"/>
<rect x="914" y="570" width="6" height="6" fill="#6e6"/><rect x="914" y="581" width="6" height="6" fill="#6e6"/><rect x="914" y="592" width="6" height="6" fill="#6e6"/><rect x="914" y="603" width="6" height="6" fill="#6e6"/>
<rect x="1069" y="526" width="6" height="6" fill="#e888e0"/>
<rect x="918" y="612" width="152" height="10" rx="5" class="wi"/><text x="921" y="619.5" class="ar">◀</text><text x="929" y="619.5" class="wl">add_noise</text><text x="1050" y="619.5" class="wv">enable</text><text x="1058" y="619.5" class="ar">▶</text>
<rect x="918" y="625" width="152" height="10" rx="5" class="wi"/><text x="921" y="632.5" class="ar">◀</text><text x="929" y="632.5" class="wl">noise_seed</text><text x="1050" y="632.5" class="wv">0</text><text x="1058" y="632.5" class="ar">▶</text>
<rect x="918" y="638" width="152" height="10" rx="5" class="wi"/><text x="921" y="645.5" class="ar">◀</text><text x="929" y="645.5" class="wl">control_after_generate</text><text x="1050" y="645.5" class="wv">fixed</text><text x="1058" y="645.5" class="ar">▶</text>
<rect x="918" y="651" width="152" height="10" rx="5" class="wi"/><text x="921" y="658.5" class="ar">◀</text><text x="929" y="658.5" class="wl">cfg</text><text x="1050" y="658.5" class="wv">8.000</text><text x="1058" y="658.5" class="ar">▶</text>
<rect x="918" y="664" width="152" height="10" rx="5" class="wi"/><text x="921" y="671.5" class="ar">◀</text><text x="929" y="671.5" class="wl">sampler_name</text><text x="1050" y="671.5" class="wv">dpmpp_2m_sde_gpu</text><text x="1058" y="671.5" class="ar">▶</text>
<rect x="918" y="677" width="152" height="10" rx="5" class="wi"/><text x="921" y="684.5" class="ar">◀</text><text x="929" y="684.5" class="wl">return_with_leftover_noise</text><text x="1050" y="684.5" class="wv">enable</text><text x="1058" y="684.5" class="ar">▶</text>
</g>

<g>
<rect x="956" y="718" width="164" height="190" rx="4" fill="#33334f"/><rect x="956" y="718" width="164" height="18" rx="4" fill="#26263a"/>
<circle cx="963" cy="727" r="2.5" fill="#777"/><text x="971" y="730" class="t">KSampler (Advanced) - REFINER</text>
<rect x="958" y="739" width="6" height="6" fill="#b394dc"/><rect x="958" y="750" width="6" height="6" fill="#f0a030"/><rect x="958" y="761" width="6" height="6" fill="#f0a030"/><rect x="958" y="772" width="6" height="6" fill="#e888e0"/>
<rect x="958" y="783" width="6" height="6" fill="#6e6"/><rect x="958" y="794" width="6" height="6" fill="#6e6"/><rect x="958" y="805" width="6" height="6" fill="#6e6"/>
<rect x="1113" y="739" width="6" height="6" fill="#e888e0"/>
<rect x="962" y="814" width="152" height="10" rx="5" class="wi"/><text x="965" y="821.5" class="ar">◀</text><text x="973" y="821.5" class="wl">add_noise</text><text x="1094" y="821.5" class="wv">disable</text><text x="1102" y="821.5" class="ar">▶</text>
<rect x="962" y="827" width="152" height="10" rx="5" class="wi"/><text x="965" y="834.5" class="ar">◀</text><text x="973" y="834.5" class="wl">noise_seed</text><text x="1094" y="834.5" class="wv">0</text><text x="1102" y="834.5" class="ar">▶</text>
<rect x="962" y="840" width="152" height="10" rx="5" class="wi"/><text x="965" y="847.5" class="ar">◀</text><text x="973" y="847.5" class="wl">control_after_generate</text><text x="1094" y="847.5" class="wv">fixed</text><text x="1102" y="847.5" class="ar">▶</text>
<rect x="962" y="853" width="152" height="10" rx="5" class="wi"/><text x="965" y="860.5" class="ar">◀</text><text x="973" y="860.5" class="wl">cfg</text><text x="1094" y="860.5" class="wv">6.000</text><text x="1102" y="860.5" class="ar">▶</text>
<rect x="962" y="866" width="152" height="10" rx="5" class="wi"/><text x="965" y="873.5" class="ar">◀</text><text x="973" y="873.5" class="wl">sampler_name</text><text x="1094" y="873.5" class="wv">dpmpp_2s_ancestral</text><text x="1102" y="873.5" class="ar">▶</text>
<rect x="962" y="879" width="152" height="10" rx="5" class="wi"/><text x="965" y="886.5" class="ar">◀</text><text x="973" y="886.5" class="wl">end_at_step</text><text x="1094" y="886.5" class="wv">10000</text><text x="1102" y="886.5" class="ar">▶</text>
<rect x="962" y="892" width="152" height="10" rx="5" class="wi"/><text x="965" y="899.5" class="ar">◀</text><text x="973" y="899.5" class="wl">return_with_leftover_noise</text><text x="1094" y="899.5" class="wv">disable</text><text x="1102" y="899.5" class="ar">▶</text>
</g>

<g>
<rect x="1131" y="557" width="90" height="40" rx="4" fill="#5a3c2a"/><rect x="1131" y="557" width="90" height="16" rx="4" fill="#3e2a1c"/>
<circle cx="1140" cy="565" r="2.5" fill="#777"/><text x="1148" y="568" class="t">VAE Decode</text>
<rect x="1135" y="578" width="6" height="6" fill="#e888e0"/><rect x="1135" y="589" width="6" height="6" fill="#e05a5a"/><rect x="1212" y="578" width="6" height="6" fill="#4aa0e0"/>
<rect x="1131" y="611" width="90" height="40" rx="4" fill="#5a3c2a"/><rect x="1131" y="611" width="90" height="16" rx="4" fill="#3e2a1c"/>
<circle cx="1140" cy="619" r="2.5" fill="#777"/><text x="1148" y="622" class="t">VAE Decode</text>
<rect x="1135" y="632" width="6" height="6" fill="#e888e0"/><rect x="1135" y="643" width="6" height="6" fill="#e05a5a"/><rect x="1212" y="632" width="6" height="6" fill="#4aa0e0"/>
</g>

<g>
<rect x="1257" y="362" width="294" height="326" rx="4" fill="#353535"/><rect x="1257" y="362" width="294" height="16" rx="4" fill="#2a2a2a"/>
<circle cx="1265" cy="370" r="2.5" fill="#777"/><text x="1273" y="373" class="t">Preview Image</text>
<rect x="1259" y="382" width="6" height="6" fill="#4aa0e0"/>
<use href="#photo" x="1257" y="392"/>
</g>
<g>
<rect x="1257" y="695" width="294" height="337" rx="4" fill="#353535"/><rect x="1257" y="695" width="294" height="16" rx="4" fill="#2a2a2a"/>
<circle cx="1265" cy="703" r="2.5" fill="#777"/><text x="1273" y="706" class="t">Save Image</text>
<rect x="1259" y="714" width="6" height="6" fill="#4aa0e0"/>
<rect x="1265" y="725" width="278" height="10" rx="5" class="wi"/><text x="1273" y="732.5" class="wl">filename_prefix</text><text x="1535" y="732.5" class="wv">ComfyUI</text>
<use href="#photo" x="1257" y="738"/>
</g>
</svg>
</body></html>
